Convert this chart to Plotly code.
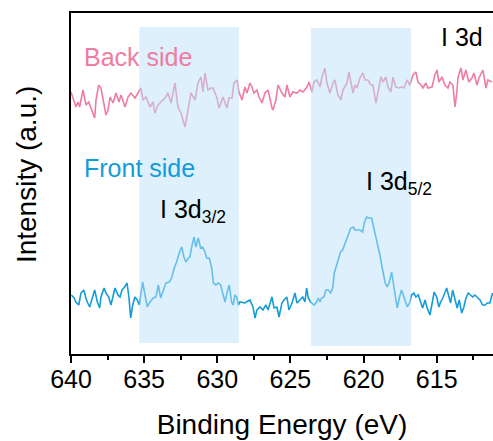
import plotly.graph_objects as go

# I 3d XPS spectra, back side and front side of the film (binding energy in eV)
back_energy = [
    640.00, 639.75, 639.66, 639.52, 639.41, 639.18, 639.06, 638.97, 638.79, 638.63,
    638.38, 638.29, 638.11, 637.95, 637.74, 637.61, 637.47, 637.33, 637.13, 636.92,
    636.72, 636.58, 636.31, 636.10, 635.90, 635.63, 635.42, 635.22, 635.08, 634.87,
    634.60, 634.40, 634.26, 634.05, 633.85, 633.57, 633.37, 633.16, 632.89, 632.69,
    632.48, 632.21, 632.00, 631.80, 631.52, 631.32, 631.11, 630.98, 630.84, 630.64,
    630.43,
    630.29, 630.02, 629.88, 629.61, 629.47, 629.34, 629.20, 628.99, 628.86, 628.65,
    628.52, 628.31, 628.11, 627.97, 627.77, 627.63, 627.49, 627.29, 627.15, 626.94,
    626.74, 626.53, 626.26, 626.19, 625.99, 625.85, 625.58, 625.37, 625.24, 625.03,
    624.83, 624.55, 624.35, 624.14, 623.87, 623.73, 623.53, 623.39, 623.19, 622.98,
    622.84, 622.64, 622.50, 622.30, 622.09, 621.96, 621.75, 621.55, 621.41, 621.13,
    621.00,
    620.72, 620.59, 620.45, 620.25, 620.04, 619.90, 619.70, 619.49, 619.36, 619.15,
    619.02, 618.81, 618.67, 618.47, 618.33, 618.13, 617.99, 617.79, 617.58, 617.38,
    617.24, 617.03, 616.83, 616.62, 616.42, 616.28, 616.08, 615.94, 615.74, 615.60,
    615.32, 615.12, 614.98, 614.85, 614.64, 614.44, 614.23, 614.09, 613.89, 613.75,
    613.62, 613.55, 613.34, 613.21, 613.00, 612.80, 612.59, 612.45, 612.25, 612.11,
    611.91, 611.84, 611.63, 611.50, 611.22,
]
back_intensity = [
    262, 251, 247, 252, 247, 264, 254, 249, 252, 246,
    236, 254, 269, 266, 249, 239, 244, 257, 251, 261,
    252, 259, 247, 257, 261, 256, 261, 266, 254, 257,
    247, 252, 241, 249, 252, 256, 261, 251, 271, 247,
    241, 227, 244, 261, 254, 271, 277, 262, 281, 264,
    266,
    266, 256, 246, 257, 251, 246, 256, 256, 271, 274,
    262, 254, 267, 261, 271, 267, 261, 264, 257, 251,
    261, 264, 246, 244, 254, 269, 261, 257, 269, 257,
    262, 261, 264, 262, 267, 272, 262, 272, 274, 267,
    277, 286, 271, 261, 271, 274, 259, 254, 264, 271,
    282,
    261, 269, 266, 276, 281, 274, 274, 269, 269, 251,
    262, 277, 272, 277, 267, 262, 277, 267, 266, 267,
    266, 274, 269, 279, 282, 272, 269, 266, 271, 266,
    267, 279, 284, 272, 277, 269, 266, 272, 269, 247,
    262, 276, 286, 274, 284, 272, 276, 281, 269, 276,
    282, 284, 266, 274, 272,
]

front_energy = [
    639.98, 639.79, 639.66, 639.47, 639.32, 639.13, 639.00, 638.89, 638.72, 638.56,
    638.38, 638.20, 638.04, 637.95, 637.74, 637.61, 637.42, 637.27, 637.13, 636.99,
    636.79, 636.65, 636.51, 636.33, 636.17, 636.04,
    635.92, 635.78, 635.63, 635.47, 635.33, 635.10, 634.94, 634.78, 634.60, 634.37,
    634.19, 634.03, 633.87, 633.69, 633.51, 633.28, 633.12, 632.94, 632.78, 632.60,
    632.43, 632.28, 632.14, 631.98, 631.87, 631.75, 631.59, 631.46, 631.30, 631.14,
    631.00, 630.84, 630.72, 630.55, 630.38, 630.27, 630.09, 629.93, 629.77, 629.63,
    629.47, 629.32, 629.18, 629.02, 628.91, 628.79, 628.67, 628.56,
    628.45, 628.11, 627.77, 627.56, 627.42, 627.29, 627.08, 626.88, 626.67, 626.53,
    626.26, 626.12, 625.92, 625.78, 625.58, 625.44, 625.24, 625.10, 624.89, 624.69,
    624.55,
    624.35, 624.16, 624.01, 623.89, 623.78, 623.62, 623.39, 623.21, 623.10, 622.98,
    622.86, 622.71, 622.57, 622.41, 622.25, 622.11, 622.00, 621.89, 621.73, 621.57,
    621.43, 621.32, 621.20, 621.05, 620.88, 620.70, 620.59, 620.43, 620.25, 620.06,
    619.95, 619.79, 619.63, 619.45, 619.34, 619.15, 618.99, 618.88, 618.76, 618.65,
    618.52, 618.38, 618.24, 618.08, 617.97, 617.85, 617.70, 617.56, 617.40,
    617.17, 617.01, 616.83, 616.71, 616.56, 616.42, 616.26, 616.10, 615.96, 615.80,
    615.65, 615.46, 615.30, 615.17, 615.00, 614.85, 614.73, 614.55, 614.32, 614.16,
    614.05, 613.91, 613.75, 613.60, 613.46, 613.29, 613.14, 613.00, 612.84, 612.68,
    612.54, 612.39, 612.23, 612.04, 611.86, 611.70, 611.54, 611.36, 611.18,
]
front_intensity = [
    59, 56, 52, 49, 61, 64, 57, 52, 47, 56,
    64, 52, 46, 57, 66, 61, 57, 49, 59, 66,
    59, 57, 64, 67, 71, 57,
    36, 49, 57, 54, 49, 72, 59, 47, 52, 56,
    57, 69, 56, 64, 71, 72, 76, 86, 92, 101,
    107, 97, 92, 96, 97, 107, 117, 107, 116, 106,
    107, 102, 96, 96, 86, 71, 69, 71, 69, 61,
    52, 62, 69, 52, 49, 59, 57, 49,
    52, 51, 54, 47, 36, 44, 47, 44, 49, 44,
    57, 46, 47, 37, 51, 54, 57, 44, 51, 61,
    51,
    54, 57, 52, 66, 56, 52, 49, 52, 56, 52,
    56, 57, 64, 64, 61, 66, 81, 86, 94, 102,
    104, 109, 112, 119, 126, 127, 124, 124, 124, 122,
    131, 137, 136, 136, 129, 119, 109, 99, 89, 79,
    71, 67, 72, 82, 72, 57, 46, 56, 64,
    54, 47, 52, 59, 61, 57, 59, 51, 46, 54,
    46, 39, 52, 62, 57, 47, 52, 57, 66, 56,
    51, 64, 56, 46, 54, 41, 47, 56, 61, 59,
    57, 59, 57, 54, 49, 49, 51, 51, 61,
]

# Highlighted peak windows (eV)
peak_windows = [(635.33, 628.52), (623.60, 616.76)]
window_span = [(11, 327), (8, 326)]

tick_values = [640, 635, 630, 625, 620, 615]

FONT = "Liberation Sans, Arial, sans-serif"
PINK = "#ef7ca1"
BLUE = "#139cd9"

fig = go.Figure()
fig.add_trace(go.Scatter(x=back_energy, y=back_intensity, mode="lines",
                         line=dict(color=PINK, width=1.6), showlegend=False))
fig.add_trace(go.Scatter(x=front_energy, y=front_intensity, mode="lines",
                         line=dict(color=BLUE, width=1.6), showlegend=False))

for (x0, x1), (y0, y1) in zip(peak_windows, window_span):
    fig.add_shape(type="rect", xref="x", yref="y", x0=x0, x1=x1, y0=y0, y1=y1,
                  fillcolor="rgb(188,225,249)", opacity=0.5,
                  line=dict(width=0), layer="above")

labels = [
    dict(text="Back side", x=639.25, y=297.5, xanchor="left", color=PINK),
    dict(text="Front side", x=639.25, y=186.5, xanchor="left", color=BLUE),
    dict(text="I 3d", x=611.7, y=317.5, xanchor="right", color="black"),
    dict(text="I 3d<sub>3/2</sub>", x=634.05, y=143, xanchor="left", color="black"),
    dict(text="I 3d<sub>5/2</sub>", x=619.97, y=171, xanchor="left", color="black"),
]
for lab in labels:
    fig.add_annotation(text=lab["text"], x=lab["x"], y=lab["y"], xref="x", yref="y",
                       xanchor=lab["xanchor"], yanchor="middle", showarrow=False,
                       font=dict(family=FONT, size=25, color=lab["color"]))

# Vertical axis title, placed left of the axis line
fig.add_annotation(text="Intensity (a.u.)", xref="paper", yref="paper",
                   x=-0.104, y=0.525, xanchor="center", yanchor="middle",
                   textangle=-90, showarrow=False,
                   font=dict(family=FONT, size=28, color="black"))

fig.update_layout(
    width=493, height=441,
    margin=dict(l=71, r=0, t=13, b=87),
    paper_bgcolor="white", plot_bgcolor="white",
    font=dict(family=FONT, color="black"),
    xaxis=dict(
        range=[640, 611.15], tickvals=tick_values, ticks="outside", ticklen=7,
        tickwidth=1.5, tickcolor="black", tickfont=dict(size=25),
        ticklabelstandoff=-5,
        minor=dict(ticks="outside", dtick=2.5, ticklen=4, tickwidth=1.5, tickcolor="black"),
        showline=True, linecolor="black", linewidth=2, mirror=True,
        showgrid=False, zeroline=False,
        title=dict(text="Binding Energy (eV)", font=dict(size=28), standoff=22),
    ),
    yaxis=dict(
        range=[0, 341], showticklabels=False, ticks="",
        showline=True, linecolor="black", linewidth=2,
        showgrid=False, zeroline=False,
    ),
)

fig.write_html("out.html")
